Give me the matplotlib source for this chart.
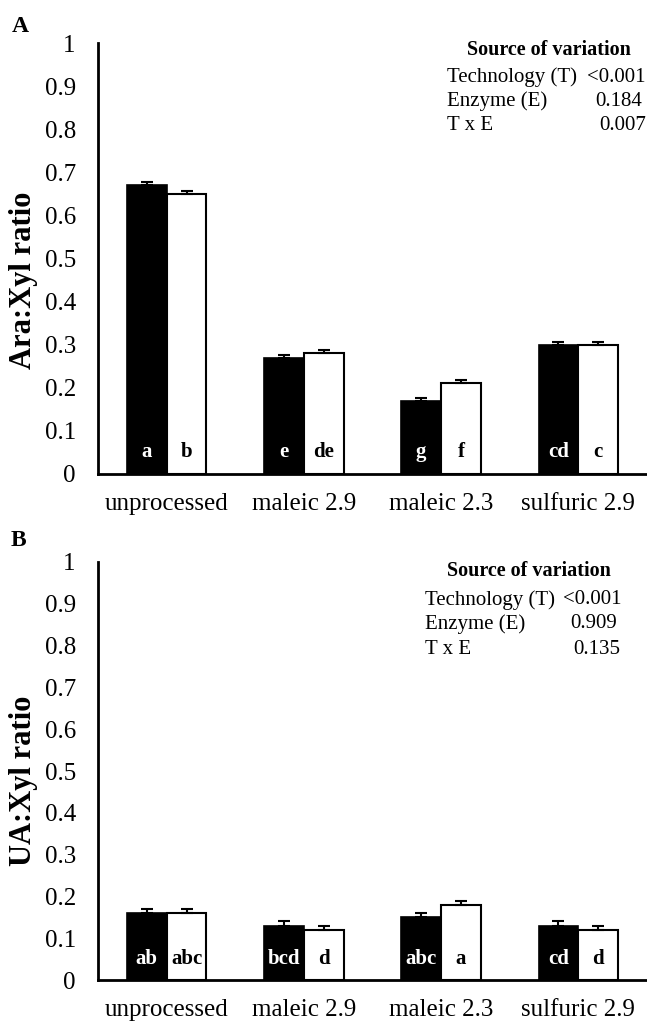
import numpy as np
import matplotlib
matplotlib.use("Agg")
import matplotlib.pyplot as plt

plt.rcParams['font.family'] = ['Liberation Serif', 'DejaVu Serif']

#----- data
categories = ['unprocessed', 'maleic 2.9', 'maleic 2.3', 'sulfuric 2.9']
yticks = [0, 0.1, 0.2, 0.3, 0.4, 0.5, 0.6, 0.7, 0.8, 0.9, 1]
ytick_labels = ['0', '0.1', '0.2', '0.3', '0.4', '0.5', '0.6', '0.7', '0.8', '0.9', '1']

# panel A: Ara:Xyl ratio
ara_black = [0.67, 0.27, 0.17, 0.30]
ara_white = [0.65, 0.28, 0.21, 0.30]
ara_black_err = [0.007, 0.007, 0.007, 0.007]
ara_white_err = [0.006, 0.007, 0.007, 0.007]
ara_black_letters = ['a', 'e', 'g', 'cd']
ara_white_letters = ['b', 'de', 'f', 'c']
ara_stats = ['<0.001', '0.184', '0.007']

# panel B: UA:Xyl ratio
ua_black = [0.16, 0.13, 0.15, 0.13]
ua_white = [0.16, 0.12, 0.18, 0.12]
ua_black_err = [0.010, 0.010, 0.010, 0.010]
ua_white_err = [0.010, 0.010, 0.010, 0.010]
ua_black_letters = ['ab', 'bcd', 'abc', 'cd']
ua_white_letters = ['abc', 'd', 'a', 'd']
ua_stats = ['<0.001', '0.909', '0.135']

stat_names = ['Technology (T)', 'Enzyme (E)', 'T x E']

W, H = 647, 1021
fig = plt.figure(figsize=(W / 100, H / 100), dpi=100)


def panel(rect, black, white, berr, werr, bl, wl, ylabel, ylab_y):
    ax = fig.add_axes(rect)
    x = np.arange(len(categories))
    bw = 0.29
    ax.bar(x - bw / 2, black, bw, color='black', edgecolor='black', linewidth=1.2,
           yerr=[np.zeros(4), berr], capsize=4.5,
           error_kw=dict(ecolor='black', elinewidth=1.5, capthick=1.5))
    ax.bar(x + bw / 2, white, bw, color='white', edgecolor='black', linewidth=1.5,
           yerr=[np.zeros(4), werr], capsize=4.5,
           error_kw=dict(ecolor='black', elinewidth=1.5, capthick=1.5))
    for i in range(len(categories)):
        ax.text(x[i] - bw / 2, 0.05, bl[i], color='white', ha='center', va='center',
                fontsize=15, fontweight='bold')
        ax.text(x[i] + bw / 2, 0.05, wl[i], color='black', ha='center', va='center',
                fontsize=15, fontweight='bold')
    ax.set_xlim(-0.5, 3.5)
    ax.set_ylim(0, 1)
    ax.set_yticks(yticks)
    ax.set_yticklabels(ytick_labels)
    ax.set_xticks(x)
    ax.set_xticklabels(categories)
    ax.tick_params(axis='y', length=0, pad=16, labelsize=18)
    ax.tick_params(axis='x', length=0, pad=14, labelsize=18)
    for s in ['top', 'right']:
        ax.spines[s].set_visible(False)
    for s in ['left', 'bottom']:
        ax.spines[s].set_linewidth(2)
        ax.spines[s].set_color('black')
    ax.patch.set_alpha(0)
    ax.text(-0.135, ylab_y, ylabel, transform=ax.transAxes, rotation=90,
            ha='center', va='center', fontsize=22, fontweight='bold')
    return ax


def fx(px):
    return px / W


def fy(py):
    return 1 - py / H


#----- panel A
panel([98 / W, fy(474), 1 - 98 / W, (474 - 43) / H],
      ara_black, ara_white, ara_black_err, ara_white_err,
      ara_black_letters, ara_white_letters, 'Ara:Xyl ratio', 0.45)
fig.text(fx(20), fy(26), 'A', ha='center', va='center', fontsize=17, fontweight='bold')
fig.text(fx(549), fy(50), 'Source of variation', ha='center', va='center',
         fontsize=14.5, fontweight='bold')
rows_a = [77, 101, 125]
right_a = [645, 642, 646]
for name, val, ry, rx in zip(stat_names, ara_stats, rows_a, right_a):
    fig.text(fx(447), fy(ry), name, ha='left', va='center', fontsize=15)
    fig.text(fx(rx), fy(ry), val, ha='right', va='center', fontsize=15)

#----- panel B
panel([98 / W, fy(980), 1 - 98 / W, (980 - 562) / H],
      ua_black, ua_white, ua_black_err, ua_white_err,
      ua_black_letters, ua_white_letters, 'UA:Xyl ratio', 0.476)
fig.text(fx(18), fy(541), 'B', ha='center', va='center', fontsize=17, fontweight='bold')
fig.text(fx(529), fy(571), 'Source of variation', ha='center', va='center',
         fontsize=14.5, fontweight='bold')
rows_b = [600, 624, 649]
right_b = [622, 617, 620]
for name, val, ry, rx in zip(stat_names, ua_stats, rows_b, right_b):
    fig.text(fx(425), fy(ry), name, ha='left', va='center', fontsize=15)
    fig.text(fx(rx), fy(ry), val, ha='right', va='center', fontsize=15)

fig.savefig('out.png', dpi=100)
